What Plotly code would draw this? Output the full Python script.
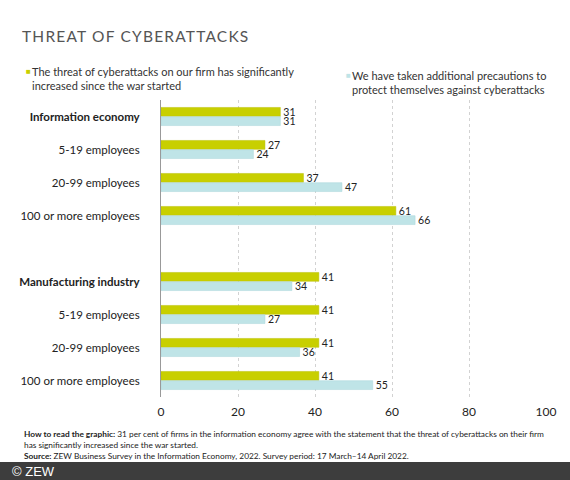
import plotly.graph_objects as go

# Data
groups = ["Information economy", "Manufacturing industry"]
sizes = ["", "5-19 employees", "20-99 employees", "100 or more employees"]
threat = [31, 27, 37, 61, 41, 41, 41, 41]
precautions = [31, 24, 47, 66, 34, 27, 36, 55]
series_names = [
    "The threat of cyberattacks on our firm has significantly<br>increased since the war started",
    "We have taken additional precautions to<br>protect themselves against cyberattacks",
]
x_ticks = [0, 20, 40, 60, 80, 100]

green = "#c8cf00"
blue = "#bfe4e7"
font = "Lato"

# row keys (unique) and their labels
keys, labels = [], []
for g in groups:
    for s in sizes:
        keys.append(g + "|" + s)
        labels.append("<b>" + g + "</b>" if s == "" else s)
spacer = "spacer"
order = keys[:4] + [spacer] + keys[4:]

fig = go.Figure()
fig.add_trace(go.Bar(
    y=keys, x=threat, orientation="h", name=series_names[0],
    marker=dict(color=green, line=dict(color="#b9bf00", width=0.5)),
    text=threat, textposition="outside", cliponaxis=False, constraintext="none",
    textfont=dict(size=10.5, color="#222", family=font),
))
fig.add_trace(go.Bar(
    y=keys, x=precautions, orientation="h", name=series_names[1],
    marker=dict(color=blue, line=dict(color="#a9d6da", width=0.5)),
    text=precautions, textposition="outside", cliponaxis=False, constraintext="none",
    textfont=dict(size=10.5, color="#222", family=font),
))

fig.update_layout(
    width=570, height=480,
    margin=dict(l=161, r=24, t=100, b=83),
    paper_bgcolor="white", plot_bgcolor="white",
    barmode="group", bargap=0.44, bargroupgap=0.04,
    showlegend=False,
    font=dict(family=font, color="#222"),
    xaxis=dict(
        range=[0, 100], tickvals=x_ticks, showgrid=True,
        gridcolor="#d2d2d2", griddash="dot", gridwidth=1, zeroline=False,
        tickfont=dict(size=12, color="#222"), ticks="", ticklabelstandoff=6,
    ),
    yaxis=dict(
        type="category", categoryorder="array", categoryarray=order,
        autorange="reversed", tickvals=keys, ticktext=labels,
        showline=True, linecolor="#999", linewidth=1, showgrid=False,
        ticks="", ticklabelstandoff=18, tickfont=dict(size=11.5, color="#222"),
    ),
    title=dict(
        text='<span style="letter-spacing:1.2px">THREAT OF CYBERATTACKS</span>',
        x=22 / 570, xanchor="left", y=1 - 37 / 480, yanchor="middle",
        font=dict(size=15.5, color="#555", family=font),
    ),
)

# legend drawn as annotations
fig.add_annotation(xref="paper", yref="paper", x=-137 / 385, y=1 + 29 / 297,
                   text="■", showarrow=False, xanchor="left", yanchor="middle",
                   font=dict(size=8, color=green))
fig.add_annotation(xref="paper", yref="paper", x=-131 / 385, y=1 + 37 / 297,
                   text=series_names[0], showarrow=False, xanchor="left", yanchor="top",
                   align="left", font=dict(size=11, color="#333"))
fig.add_annotation(xref="paper", yref="paper", x=183 / 385, y=1 + 25 / 297,
                   text="■", showarrow=False, xanchor="left", yanchor="middle",
                   font=dict(size=8, color=blue))
fig.add_annotation(xref="paper", yref="paper", x=189 / 385, y=1 + 33 / 297,
                   text=series_names[1], showarrow=False, xanchor="left", yanchor="top",
                   align="left", font=dict(size=11, color="#333"))

# notes
notes = ("<b>How to read the graphic:</b> 31 per cent of firms in the information economy agree with the statement "
         "that the threat of cyberattacks on their firm<br>has significantly increased since the war started.<br>"
         "<b>Source:</b> ZEW Business Survey in the Information Economy, 2022. Survey period: 17 March\u201314 April 2022.")
fig.add_annotation(xref="paper", yref="paper", x=-139 / 385, y=-(427 - 397) / 297,
                   text=notes, showarrow=False, xanchor="left", yanchor="top",
                   align="left", font=dict(size=8.3, color="#222"))

# footer bar
fig.add_shape(type="rect", xref="paper", yref="paper", x0=-161 / 385, x1=1 + 24 / 385,
              y0=-(480 - 397) / 297, y1=-(462 - 397) / 297,
              fillcolor="#3d3d3d", line=dict(width=0), layer="above")
fig.add_annotation(xref="paper", yref="paper", x=-151 / 385, y=-(471 - 397) / 297,
                   text="© ZEW", showarrow=False, xanchor="left", yanchor="middle",
                   font=dict(size=13, color="white", family="Liberation Sans"))

fig.write_html("out.html", config={"displayModeBar": False},
               post_script="document.body.style.margin='0';")
